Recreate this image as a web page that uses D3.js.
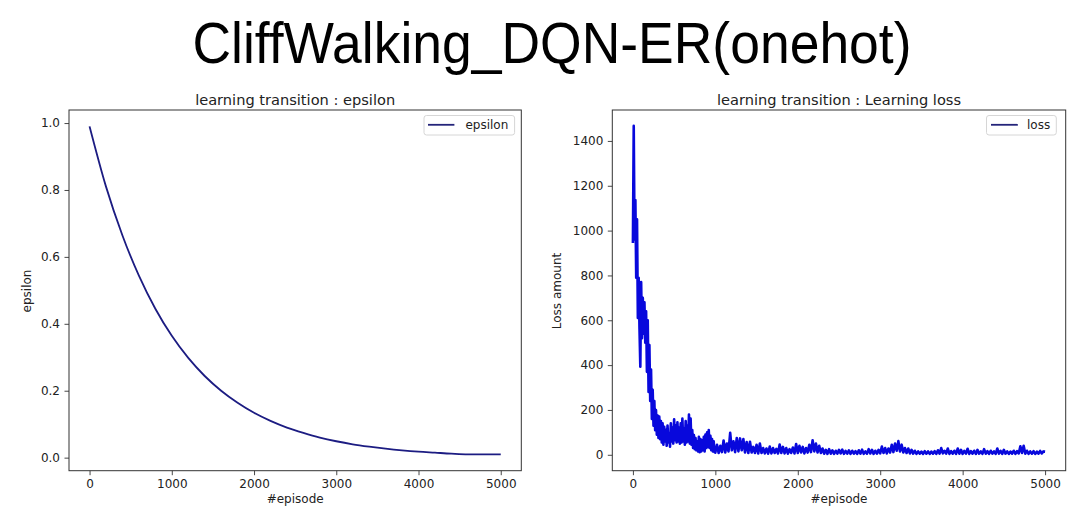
<!DOCTYPE html>
<html>
<head>
<meta charset="utf-8">
<script src="https://cdn.jsdelivr.net/npm/d3@7"></script>
<style>
html,body{margin:0;padding:0;background:#fff;}
svg{display:block;}
text{font-family:"DejaVu Sans",sans-serif;fill:#222;}
</style>
</head>
<body>
<script>
// ---------- data ----------
const mainTitle = "CliffWalking_DQN-ER(onehot)";
const xTicks = [0, 1000, 2000, 3000, 4000, 5000];
const epsTicks = [0.0, 0.2, 0.4, 0.6, 0.8, 1.0];
const lossTicks = [0, 200, 400, 600, 800, 1000, 1200, 1400];

// epsilon read every 200 episodes (0..5000)
const epsStep = 200;
const epsilonValues = [0.99, 0.81, 0.664, 0.544, 0.445, 0.364, 0.298, 0.244, 0.200, 0.164,
  0.134, 0.110, 0.090, 0.074, 0.060, 0.049, 0.040, 0.033, 0.027, 0.022,
  0.018, 0.015, 0.012, 0.010, 0.010, 0.010];

// loss read every 10 episodes for 0..990
const lossEarlyStep = 10;
const lossEarly = [945,1467,960,1136,790,1050,610,790,560,393,
  770,520,700,540,680,500,640,370,600,280,
  490,240,380,160,290,130,240,110,200,90,
  175,75,170,70,150,55,140,45,125,60,
  110,40,130,55,95,36,140,60,120,50,
  158,65,130,55,145,60,120,50,140,55,
  162,60,115,45,150,55,130,60,180,50,
  162,45,110,30,88,25,75,20,60,15,
  80,12,70,15,65,20,80,15,90,30,
  100,35,110,30,85,20,70,15,60,12];
// loss read every 20 episodes for 1000..5000
const lossLateStart = 1000;
const lossLateStep = 20;
const lossLate = [10,45,8,40,12,64,10,50,15,98,
  20,60,12,75,15,73,20,70,10,57,
  8,58,10,35,8,45,6,50,8,30,
  6,28,5,37,6,30,8,26,6,46,
  8,35,6,30,5,25,8,32,6,48,
  8,40,10,35,6,30,10,45,12,65,
  15,50,10,40,8,28,5,22,4,25,
  5,20,4,18,5,22,6,23,4,17,
  5,20,4,18,5,16,4,20,5,23,
  4,15,5,25,6,22,4,18,5,22,
  6,37,8,30,6,28,10,45,12,50,
  18,61,15,45,10,30,8,28,6,22,
  5,18,4,15,5,14,4,16,5,15,
  4,14,5,16,4,20,5,30,6,18,
  5,28,4,16,5,18,4,28,5,22,
  4,17,5,27,4,16,5,18,4,22,
  5,15,4,25,5,16,4,18,5,15,
  4,28,5,17,4,22,5,15,4,14,
  5,18,4,16,6,38,8,40,5,18,
  4,15,5,16,4,14,5,17,6,15,
  14];

// ---------- drawing ----------
const W = 1082, H = 526;
const svg = d3.select("body").append("svg").attr("width", W).attr("height", H);

svg.append("text")
  .attr("x", 552).attr("y", 63)
  .attr("text-anchor", "middle")
  .style("font-family", '"Liberation Sans Narrow","Liberation Sans",Arial,sans-serif')
  .style("font-size", "57px")
  .style("fill", "#000")
  .attr("textLength", 719).attr("lengthAdjust", "spacingAndGlyphs")
  .text(mainTitle);

function panel(opt) {
  const g = svg.append("g");
  const x = d3.scaleLinear().domain([-250, 5250]).range([opt.left, opt.right]);
  const y = d3.scaleLinear().domain(opt.yDomain).range([opt.bottom, opt.top]);

  // axes
  const xa = g.append("g").attr("transform", `translate(0,${opt.bottom})`)
    .call(d3.axisBottom(x).tickValues(xTicks).tickSize(4.5).tickPadding(4).tickFormat(d3.format("d")));
  const ya = g.append("g").attr("transform", `translate(${opt.left},0)`)
    .call(d3.axisLeft(y).tickValues(opt.yTicks).tickSize(4.5).tickPadding(4.5).tickFormat(opt.yFmt));
  [xa, ya].forEach(a => {
    a.select(".domain").remove();
    a.selectAll(".tick line").attr("stroke", "#333").attr("stroke-width", 0.9);
    a.selectAll(".tick text").style("font-size", "12px").style("fill", "#222")
      .style("font-family", '"DejaVu Sans",sans-serif');
  });

  // data line (clipped to axes)
  const clipId = "clip" + opt.id;
  svg.append("clipPath").attr("id", clipId).append("rect")
    .attr("x", opt.left).attr("y", opt.top)
    .attr("width", opt.right - opt.left).attr("height", opt.bottom - opt.top);
  g.append("path").datum(opt.data)
    .attr("clip-path", `url(#${clipId})`)
    .attr("fill", "none").attr("stroke", opt.color).attr("stroke-width", opt.lw)
    .attr("stroke-linejoin", "round")
    .attr("d", d3.line().x(d => x(d[0])).y(d => y(d[1])).curve(opt.curve));

  // frame
  g.append("rect").attr("x", opt.left).attr("y", opt.top)
    .attr("width", opt.right - opt.left).attr("height", opt.bottom - opt.top)
    .attr("fill", "none").attr("stroke", "#333").attr("stroke-width", 1);

  // titles
  g.append("text").attr("x", (opt.left + opt.right) / 2).attr("y", 105)
    .attr("text-anchor", "middle").style("font-size", "14.6px").text(opt.title);
  g.append("text").attr("x", (opt.left + opt.right) / 2).attr("y", 502.5)
    .attr("text-anchor", "middle").style("font-size", "12px").text("#episode");
  g.append("text").attr("transform", `translate(${opt.ylabX},291) rotate(-90)`)
    .attr("text-anchor", "middle").attr("dy", "0.35em").style("font-size", "12px").text(opt.ylabel);

  // legend
  const L = opt.legend;
  g.append("rect").attr("x", L.x0).attr("y", 115.5).attr("width", L.x1 - L.x0).attr("height", 19.5)
    .attr("rx", 2.5).attr("fill", "#fff").attr("stroke", "#d6d6d6").attr("stroke-width", 1);
  g.append("line").attr("x1", L.l0).attr("x2", L.l1).attr("y1", 124.8).attr("y2", 124.8)
    .attr("stroke", opt.legendColor).attr("stroke-width", 1.8);
  g.append("text").attr("x", L.t).attr("y", 129).style("font-size", "12px").text(opt.legendText);
}

const epsData = epsilonValues.map((v, i) => [i * epsStep, v]);
const lossData = lossEarly.map((v, i) => [i * lossEarlyStep, v])
  .concat(lossLate.map((v, i) => [lossLateStart + i * lossLateStep, v]));

panel({
  id: "eps", left: 69, right: 521.3, top: 110, bottom: 470.7,
  yDomain: [-0.039, 1.039], yTicks: epsTicks, yFmt: d3.format(".1f"),
  data: epsData, color: "#1c1c82", lw: 1.8, curve: d3.curveMonotoneX,
  title: "learning transition : epsilon", ylabel: "epsilon", ylabX: 27,
  legend: {x0: 424, x1: 514.6, l0: 428, l1: 454.4, t: 465.4},
  legendText: "epsilon", legendColor: "#24247a"
});

panel({
  id: "loss", left: 612.3, right: 1065.7, top: 110, bottom: 470.7,
  yDomain: [-71, 1538], yTicks: lossTicks, yFmt: d3.format("d"),
  data: lossData, color: "#0808dc", lw: 2.6, curve: d3.curveLinear,
  title: "learning transition : Learning loss", ylabel: "Loss amount", ylabX: 557,
  legend: {x0: 986.5, x1: 1056.3, l0: 991, l1: 1017.8, t: 1027},
  legendText: "loss", legendColor: "#24247a"
});
</script>
</body>
</html>
